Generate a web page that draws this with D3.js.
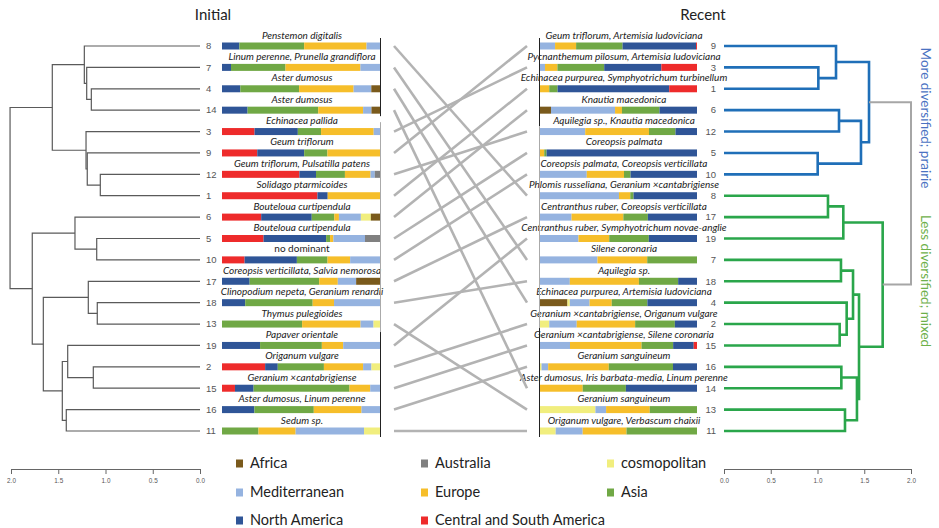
<!DOCTYPE html>
<html><head><meta charset="utf-8">
<script src="https://cdn.jsdelivr.net/npm/d3@7"></script>
<style>
body{margin:0;background:#fff}
svg{display:block;font-family:Lato,"Liberation Sans",sans-serif}
</style></head><body>
<svg id="chart" width="939" height="528"></svg>
<script>
// Region of origin for the cover of each plot, in stacking order (left panel reads left→right,
// right panel stacks in reverse).
const regions = ["Central and South America","North America","Asia","Europe","Mediterranean","cosmopolitan","Australia","Africa"];
const regionColors = ["#ee2b2b","#2f5597","#70a845","#f6be2a","#95b3e0","#f1ee7e","#808080","#7a5a1c"];
const legendOrder = ["Africa","Australia","cosmopolitan","Mediterranean","Europe","Asia","North America","Central and South America"];

// Initial survey: plot order (top→bottom), dominant species, and % share per region
const initialOrder = [8,7,4,14,3,9,12,1,6,5,10,17,18,13,19,2,15,16,11];
const initialNames = ["Penstemon digitalis","Linum perenne, Prunella grandiflora","Aster dumosus","Aster dumosus",
  "Echinacea pallida","Geum triflorum","Geum triflorum, Pulsatilla patens","Solidago ptarmicoides",
  "Bouteloua curtipendula","Bouteloua curtipendula","no dominant","Coreopsis verticillata, Salvia nemorosa",
  "Clinopodium nepeta, Geranium renardii","Thymus pulegioides","Papaver orientale","Origanum vulgare",
  "Geranium ×cantabrigiense","Aster dumosus, Linum perenne","Sedum sp."];
const initialShares = [
  [0,11,41,39.5,8.5,0,0,0],
  [0,5.7,34.5,47.4,12.4,0,0,0],
  [0,11.6,37.2,34.5,11.2,0,0,5.5],
  [0,16.2,44.7,28.4,5.3,0,0,5.4],
  [20.6,27.4,14.7,33.3,4,0,0,0],
  [22.3,29.7,14.7,33.3,0,0,0,0],
  [49,10.5,18.3,16.2,2.7,0,3.3,0],
  [60.4,6.5,0,33.1,0,0,0,0],
  [24.8,32,14.3,2.9,13.9,6.3,0,5.8],
  [26.3,39.6,2.5,2.1,20,0,9.5,0],
  [14.3,33.1,19.4,14.3,18.9,0,0,0],
  [0,17.5,44,11.8,11.6,0,0,15.1],
  [0,14.7,42.7,13.5,29.1,0,0,0],
  [0,0,50.7,37,8.2,4.1,0,0],
  [0,24.1,39.1,13.5,23.3,0,0,0],
  [27.3,8,29.2,24.8,5.3,5.4,0,0],
  [8.2,11.8,60.7,13.1,6.2,0,0,0],
  [0,20.5,37.6,30.2,11.7,0,0,0],
  [0,0,23.1,23.5,43.3,10.1,0,0]
];
// Clustering of the initial survey: [child, child, height]; negative = plot id, positive = earlier merge (1-based)
const initialMerges = [
  [-4,-14,1.150],[-7,1,1.199],[-8,2,1.224],[-12,-1,1.055],[-9,4,1.193],[-3,5,1.206],[3,6,1.563],
  [-5,-10,1.093],[-6,8,1.323],[-18,-13,1.087],[-17,10,1.182],[-2,-15,1.129],[-19,12,1.400],
  [-16,-11,1.415],[13,14,1.457],[11,15,1.658],[9,16,1.775],[7,17,2.01]
];

// Recent survey
const recentOrder = [9,3,1,6,12,5,10,8,17,19,7,18,4,2,15,16,14,13,11];
const recentNames = ["Geum triflorum, Artemisia ludoviciana","Pycnanthemum pilosum, Artemisia ludoviciana",
  "Echinacea purpurea, Symphyotrichum turbinellum","Knautia macedonica","Aquilegia sp., Knautia macedonica",
  "Coreopsis palmata","Coreopsis palmata, Coreopsis verticillata","Phlomis russeliana, Geranium ×cantabrigiense",
  "Centranthus ruber, Coreopsis verticillata","Centranthus ruber, Symphyotrichum novae-anglie","Silene coronaria",
  "Aquilegia sp.","Echinacea purpurea, Artemisia ludoviciana","Geranium ×cantabrigiense, Origanum vulgare",
  "Geranium ×cantabrigiense, Silene coronaria","Geranium sanguineum","Aster dumosus, Iris barbata-media, Linum perenne",
  "Geranium sanguineum","Origanum vulgare, Verbascum chaixii"];
const recentShares = [
  [0.6,46.8,29.6,13.4,9.6,0,0,0],
  [22.7,36.4,29.8,7.9,3.2,0,0,0],
  [17.7,71.1,5.3,5.9,0,0,0,0],
  [0,23.9,23.9,4.4,40.8,0,0,7],
  [0,13.7,16.9,40.6,28.8,0,0,0],
  [0,95.8,1.5,2.7,0,0,0,0],
  [0,42.3,4.2,23.7,29.8,0,0,0],
  [0,40.4,2.1,7.2,50.3,0,0,0],
  [0,31.3,15.6,33,20.1,0,0,0],
  [0,30.7,25.2,19.6,24.5,0,0,0],
  [0,0,31.7,31.7,36.6,0,0,0],
  [0,12,25,44,19,0,0,0],
  [0,31.6,22.7,14.1,12.6,1.5,0,17.5],
  [0,14.1,25.3,37.2,17.5,5.9,0,0],
  [2.1,13.1,20.1,45.6,19.1,0,0,0],
  [0,15.3,40.9,38.6,4.2,1,0,0],
  [0,45.3,27.5,27.2,0,0,0,0],
  [0,0,30.1,27.8,6.8,35.3,0,0],
  [0,0,44.9,27.9,17.2,10,0,0]
];
const recentMerges = [
  [-3,-1,1.009],[-9,1,1.198],[-6,-12,1.230],[-5,-10,1.002],[3,4,1.465],[2,5,1.551],
  [-8,-17,1.112],[7,-19,1.276],[-7,-18,1.251],[-2,-15,1.237],[-4,10,1.312],[9,11,1.380],
  [-16,-14,1.255],[-13,-11,1.294],[13,14,1.422],[12,15,1.444],[8,16,1.697],[6,17,2.0]
];
const clusterLabels = ["More diversified; prairie","Less diversified; mixed"];
const clusterColors = ["#1f6fb8","#2aa64b"];
const clusterTextColors = ["#4a72c2","#6db04a"];
const heightTicks = [0,0.5,1,1.5,2];

const svg = d3.select("#chart");
const rowY = d3.scaleLinear().domain([0,18]).range([46,431]);
const xLeftTree = d3.scaleLinear().domain([0,2]).range([200,11]);
const xRightTree = d3.scaleLinear().domain([0,2]).range([724,911]);
const color = d3.scaleOrdinal().domain(regions).range(regionColors);

// ---- Titles
svg.append("text").attr("x",213).attr("y",20).attr("text-anchor","middle")
  .attr("font-size",15).attr("fill","#222").text("Initial");
svg.append("text").attr("x",703).attr("y",20).attr("text-anchor","middle")
  .attr("font-size",15).attr("fill","#222").text("Recent");

// ---- Dendrogram layout
function layout(merges, order, xs){
  const pos = new Map(order.map((id,i)=>[-id,{x:xs(0),y:rowY(i)}]));
  merges.forEach((m,i)=>{
    const a = pos.get(m[0]), b = pos.get(m[1]);
    pos.set(i+1,{x:xs(m[2]),y:(a.y+b.y)/2,a,b});
  });
  return pos;
}
function drawTree(merges, order, xs, colorOf, widthOf){
  const pos = layout(merges, order, xs);
  const g = svg.append("g").attr("fill","none");
  merges.forEach((m,i)=>{
    const n = pos.get(i+1);
    g.append("path")
      .attr("d",`M${n.a.x},${n.a.y}H${n.x}V${n.b.y}H${n.b.x}`)
      .attr("stroke",colorOf(i+1)).attr("stroke-width",widthOf(i+1));
  });
}
drawTree(initialMerges, initialOrder, xLeftTree, ()=>"#5a5a5a", ()=>1.2);

// right tree coloured by the two top-level clusters
const recentGroup = new Map();
(function mark(){
  const root = recentMerges.length;
  function walk(k,grp){ if(k<=0) return; recentGroup.set(k,grp);
    walk(recentMerges[k-1][0],grp); walk(recentMerges[k-1][1],grp); }
  recentGroup.set(root,-1);
  walk(recentMerges[root-1][0],0); walk(recentMerges[root-1][1],1);
})();
drawTree(recentMerges, recentOrder, xRightTree,
  k=> recentGroup.get(k)<0 ? "#a6a6a6" : clusterColors[recentGroup.get(k)],
  k=> recentGroup.get(k)<0 ? 2 : 2.6);

// leaf numbers
const numFont = "'Liberation Sans',Arial,sans-serif";
svg.append("g").selectAll("text").data(initialOrder).join("text")
  .attr("x",206).attr("y",(d,i)=>rowY(i)).attr("dy","0.35em")
  .attr("font-family",numFont).attr("font-size",9.5).attr("fill","#555").text(d=>d);
svg.append("g").selectAll("text").data(recentOrder).join("text")
  .attr("x",716).attr("y",(d,i)=>rowY(i)).attr("dy","0.35em").attr("text-anchor","end")
  .attr("font-family",numFont).attr("font-size",9.5).attr("fill","#555").text(d=>d);

// ---- Stacked bars
function drawBars(shares, names, x0, x1, reversed, labelX){
  const g = svg.append("g");
  shares.forEach((row,i)=>{
    const idx = reversed ? d3.range(row.length).reverse() : d3.range(row.length);
    const total = d3.sum(row);
    const xs = d3.scaleLinear().domain([0,total]).range([x0,x1]);
    let acc = 0;
    idx.forEach(k=>{
      const v = row[k];
      if(v>0){
        g.append("rect").attr("x",xs(acc)).attr("y",rowY(i)-3.5)
          .attr("width",xs(acc+v)-xs(acc)).attr("height",7).attr("fill",color(regions[k]));
      }
      acc += v;
    });
    g.append("text").attr("x",labelX).attr("y",rowY(i)-11).attr("dy","0.35em")
      .attr("text-anchor","middle").attr("font-size",10).attr("fill","#222")
      .attr("font-style",names[i]==="no dominant"?"normal":"italic").text(names[i]);
  });
}
drawBars(initialShares, initialNames, 222, 380, false, 302);
drawBars(recentShares, recentNames, 540, 697, true, 624);

// thin frame lines along the inner bar edges
function edge(x, segs){
  segs.forEach(s=>svg.append("line").attr("x1",x).attr("x2",x)
    .attr("y1",rowY(s[0])+s[1]).attr("y2",rowY(s[2])+s[3]).attr("stroke",s[4]).attr("stroke-width",1));
}
edge(380.5, [[0,-8,3,6,"#222"],[3,12,13,8,"#aaa"],[13,8,18,6,"#222"]]);
edge(539.5, [[0,-8,3,16,"#222"],[3,16,13,4,"#aaa"],[13,4,18,6,"#222"]]);

// ---- Lines linking each plot between the two surveys
svg.append("g").selectAll("line").data(initialOrder).join("line")
  .attr("x1",394).attr("x2",527)
  .attr("y1",(d,i)=>rowY(i)).attr("y2",d=>rowY(recentOrder.indexOf(d)))
  .attr("stroke","#b3b3b3").attr("stroke-width",2.6);

// ---- Cluster labels
[[118,0],[281,1]].forEach(([cy,k])=>{
  svg.append("text").attr("transform",`translate(926,${cy}) rotate(90)`)
    .attr("text-anchor","middle").attr("dy","0.35em").attr("font-size",13.5)
    .attr("fill",clusterTextColors[k]).text(clusterLabels[k]);
});

// ---- Height axes
function axis(xs){
  const g = svg.append("g").attr("transform","translate(0,469)")
    .call(d3.axisBottom(xs).tickValues(heightTicks).tickFormat(d3.format(".1f")).tickSize(5).tickSizeOuter(0));
  g.select(".domain").attr("stroke","#666");
  g.selectAll(".tick line").attr("stroke","#666");
  g.selectAll(".tick text").attr("font-family",numFont).attr("font-size",7.5).attr("fill","#555")
    .attr("transform","scale(0.85,1)").attr("x",0);
  g.selectAll(".tick").each(function(){
    const t = d3.select(this).select("text");
    t.attr("transform","scale(0.85,1.05)");
  });
}
axis(xLeftTree); axis(xRightTree);

// ---- Legend
const legX = [236,421,607], legY = [463,492,520];
const leg = svg.append("g");
legendOrder.forEach((name,i)=>{
  const c = i%3, r = Math.floor(i/3);
  leg.append("rect").attr("x",legX[c]).attr("y",legY[r]-3.5).attr("width",7).attr("height",8)
    .attr("fill",color(name));
  leg.append("text").attr("x",legX[c]+14).attr("y",legY[r]).attr("dy","0.35em")
    .attr("font-size",14.5).attr("fill","#222").text(name);
});
</script>
</body></html>
